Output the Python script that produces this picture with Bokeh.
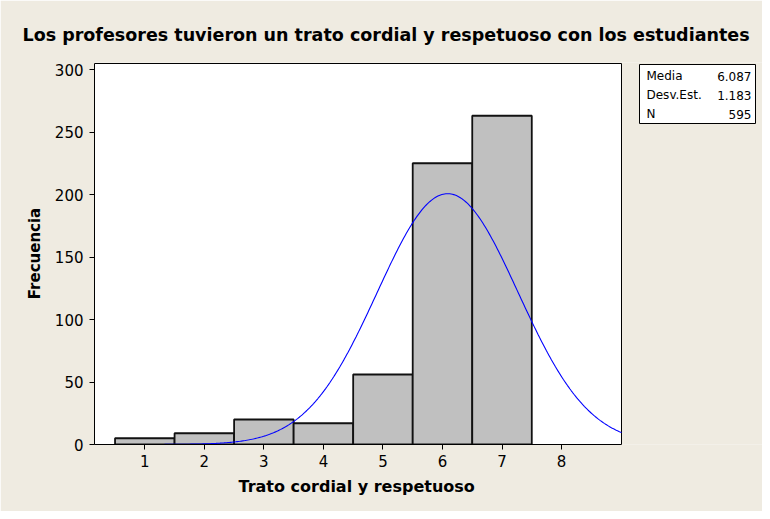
import numpy as np
from bokeh.plotting import figure
from bokeh.models import Range1d, Label, FixedTicker, Title
from bokeh.embed import file_html
from bokeh.resources import INLINE

# ---- data ----
categories = [1, 2, 3, 4, 5, 6, 7]
counts = [5, 9, 20, 17, 56, 225, 263]
x_ticks = [1, 2, 3, 4, 5, 6, 7, 8]
y_ticks = [0, 50, 100, 150, 200, 250, 300]
stat_names = ["Media", "Desv.Est.", "N"]
stat_values = ["6.087", "1.183", "595"]
mean_val = 6.087
sd_val = 1.183
n_val = 595

BG = "#EFEBE1"
FONT = "DejaVu Sans"

# plot-area geometry (canvas pixels) of the white data region
FL, FR, FT, FB = 94, 621, 63, 444
X0, X1 = 0.155, 9.007
Y0, Y1 = 0.0, 304.8
PPX = (FR - FL) / (X1 - X0)
PPY = (FB - FT) / (Y1 - Y0)

W, H = 762, 511
X_END = X0 + (W - FL) / PPX        # frame extended to the right canvas edge
Y_TOP = Y1 + 1.0 / PPY

def dx(px):
    return X0 + (px - FL) / PPX
def dy(py):
    return Y0 + (FB - py) / PPY

p = figure(width=W, height=H, output_backend="svg", toolbar_location=None,
           x_range=Range1d(X0, X_END), y_range=Range1d(Y0, Y_TOP),
           min_border_left=FL, min_border_right=0,
           min_border_top=FT - 1, min_border_bottom=H - FB)
p.border_fill_color = BG
p.background_fill_color = BG
p.outline_line_color = None
p.xgrid.visible = False
p.ygrid.visible = False
p.title = None

# white data region
p.quad(left=[X0], right=[X1], bottom=[Y0], top=[Y1],
       fill_color="white", line_color="black", line_width=1)

# bars
p.vbar(x=categories, top=counts, width=1.0, bottom=0,
       fill_color="#C0C0C0", line_color="#111111", line_width=1.8)

# fitted normal curve
xs = np.linspace(X0, X1, 400)
ys = n_val / (sd_val * np.sqrt(2 * np.pi)) * np.exp(-0.5 * ((xs - mean_val) / sd_val) ** 2)
p.line(xs, ys, line_color="#0000FF", line_width=1.1)

# axes
for ax in (p.xaxis[0], p.yaxis[0]):
    ax.major_label_text_font = FONT
    ax.major_label_text_font_size = "15px"
    ax.major_label_text_color = "black"
    ax.axis_line_color = "black"
    ax.major_tick_line_color = "black"
    ax.major_tick_out = 5
    ax.major_tick_in = 0
    ax.minor_tick_line_color = None
    ax.axis_label_text_font = FONT
    ax.axis_label_text_font_style = "bold"
    ax.axis_label_text_font_size = "15px"
    ax.axis_label_text_color = "black"

p.xaxis.ticker = FixedTicker(ticks=x_ticks)
p.yaxis.ticker = FixedTicker(ticks=y_ticks)
p.xaxis.bounds = (X0, X1)
p.yaxis.bounds = (Y0, Y1)
p.yaxis.axis_label = "Frecuencia"
p.yaxis.axis_label_standoff = 8
p.xaxis.major_label_standoff = 5
p.yaxis.major_label_standoff = 6

# x-axis title, centred under the white data region
x_title = Title(text="Trato cordial y respetuoso", text_font=FONT, text_font_style="bold",
                text_font_size="16px", text_color="black", align="left", offset=144)
p.add_layout(x_title, "below")

# main title with a small spacer between it and the plot area
spacer = Title(text="\u00a0", text_font=FONT, text_font_size="1px", text_color=BG)
main_title = Title(text="Los profesores tuvieron un trato cordial y respetuoso con los estudiantes",
                   text_font=FONT, text_font_style="bold", text_font_size="17.5px",
                   text_color="black", align="left", offset=-72)
p.add_layout(spacer, "above")
p.add_layout(main_title, "above")

# stats box
p.quad(left=[dx(639)], right=[dx(755)], top=[dy(64)], bottom=[dy(123)],
       fill_color="white", line_color="black", line_width=1)
row_y = [75.5, 94.5, 113.5]
for name, val, ry in zip(stat_names, stat_values, row_y):
    p.add_layout(Label(x=dx(646), y=dy(ry), text=name, text_font=FONT, text_font_size="12px",
                       text_align="left", text_baseline="middle", text_color="black"))
    p.add_layout(Label(x=dx(751), y=dy(ry), text=val, text_font=FONT, text_font_size="12px",
                       text_align="right", text_baseline="middle", text_color="black"))

open("out.html", "w").write(file_html(p, INLINE))
